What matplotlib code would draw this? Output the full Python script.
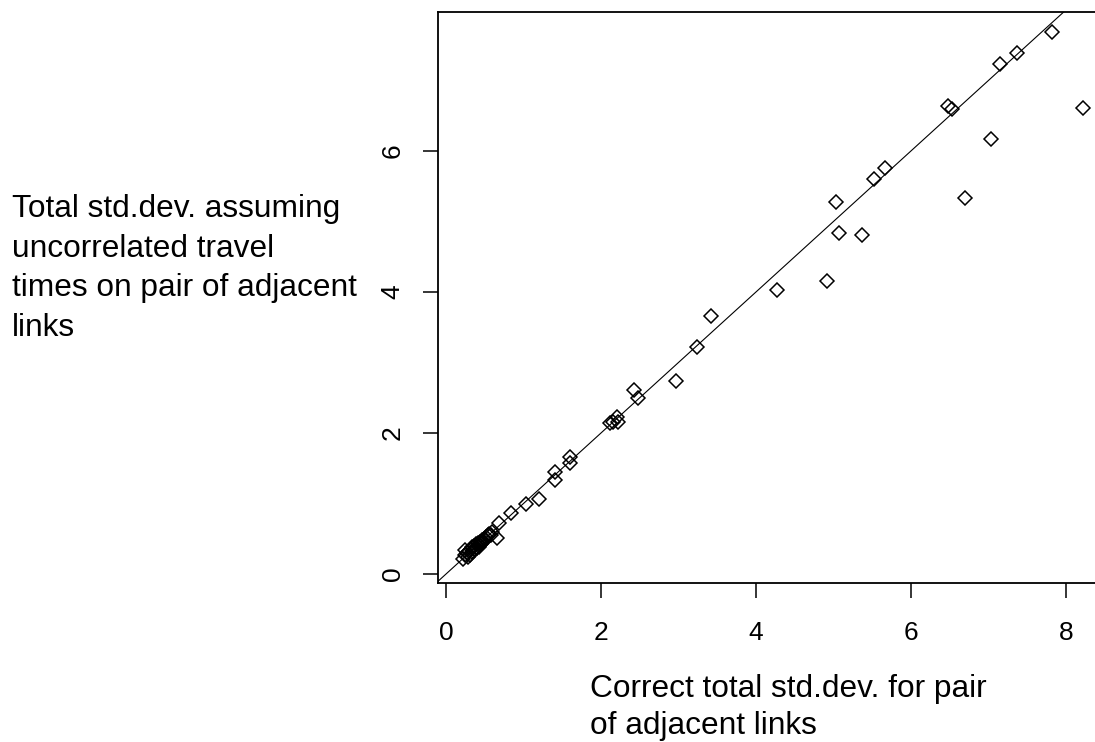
import matplotlib.pyplot as plt

plt.rcParams['font.family'] = ['Liberation Sans', 'DejaVu Sans']

# correct total std.dev. (x) vs std.dev. assuming uncorrelated links (y)
correct_sd = [0.22, 0.24, 0.25, 0.27, 0.28, 0.30, 0.31, 0.32, 0.33, 0.34,
              0.35, 0.36, 0.37, 0.38, 0.39, 0.40, 0.41, 0.42, 0.43, 0.44,
              0.45, 0.46, 0.47, 0.48, 0.49, 0.50, 0.52, 0.54, 0.56, 0.58,
              0.60, 0.66, 0.68, 0.84, 1.03, 1.20, 1.41, 1.41, 1.60, 1.60,
              2.12, 2.15, 2.21, 2.22, 2.43, 2.48, 2.97, 3.24, 3.42, 4.27,
              4.92, 5.03, 5.07, 5.37, 5.52, 5.66, 6.48, 6.53, 6.70, 7.03,
              7.15, 7.37, 7.82, 8.22]
uncorr_sd = [0.21, 0.34, 0.27, 0.30, 0.24, 0.33, 0.27, 0.36, 0.31, 0.38,
             0.33, 0.40, 0.35, 0.36, 0.42, 0.37, 0.44, 0.39, 0.41, 0.46,
             0.42, 0.48, 0.45, 0.46, 0.50, 0.48, 0.52, 0.55, 0.57, 0.56,
             0.60, 0.51, 0.72, 0.86, 1.00, 1.06, 1.45, 1.33, 1.66, 1.57,
             2.14, 2.16, 2.23, 2.15, 2.61, 2.50, 2.74, 3.22, 3.66, 4.03,
             4.16, 5.28, 4.84, 4.81, 5.60, 5.76, 6.64, 6.60, 5.33, 6.17,
             7.23, 7.39, 7.69, 6.61]

xticks = [0, 2, 4, 6, 8]
yticks = [0, 2, 4, 6]

fig = plt.figure(figsize=(10.95, 7.42), dpi=100)
ax = fig.add_axes([438/1095, 1 - 582.5/742, 1 - 438/1095, (582.5 - 12)/742])
ax.set_xlim(-0.103, 8.374)
ax.set_ylim(-0.12, 7.97)

ax.axline((0, 0), slope=1, color='black', lw=0.8)
ax.plot(correct_sd, uncorr_sd, linestyle='none', marker='D', markersize=7.3,
        markerfacecolor='none', markeredgecolor='black', markeredgewidth=1.1)

for s in ['left', 'bottom', 'top']:
    ax.spines[s].set_linewidth(1.3)
ax.spines['right'].set_visible(False)

ax.set_xticks(xticks)
ax.set_yticks(yticks)
ax.tick_params(axis='both', direction='out', length=11, width=1.1, labelsize=19)
ax.tick_params(axis='x', pad=17)
ax.tick_params(axis='y', pad=13)
for lab in ax.get_yticklabels():
    lab.set_rotation(90)
    lab.set_va('center')

fig.text(12/1095, 1 - 194/742,
         'Total std.dev. assuming\nuncorrelated travel\ntimes on pair of adjacent\nlinks',
         ha='left', va='top', fontsize=22.8, linespacing=1.42)
fig.text(590/1095, 1 - 674/742,
         'Correct total std.dev. for pair\nof adjacent links',
         ha='left', va='top', fontsize=22.8, linespacing=1.3)

fig.savefig('out.png', dpi=100)
